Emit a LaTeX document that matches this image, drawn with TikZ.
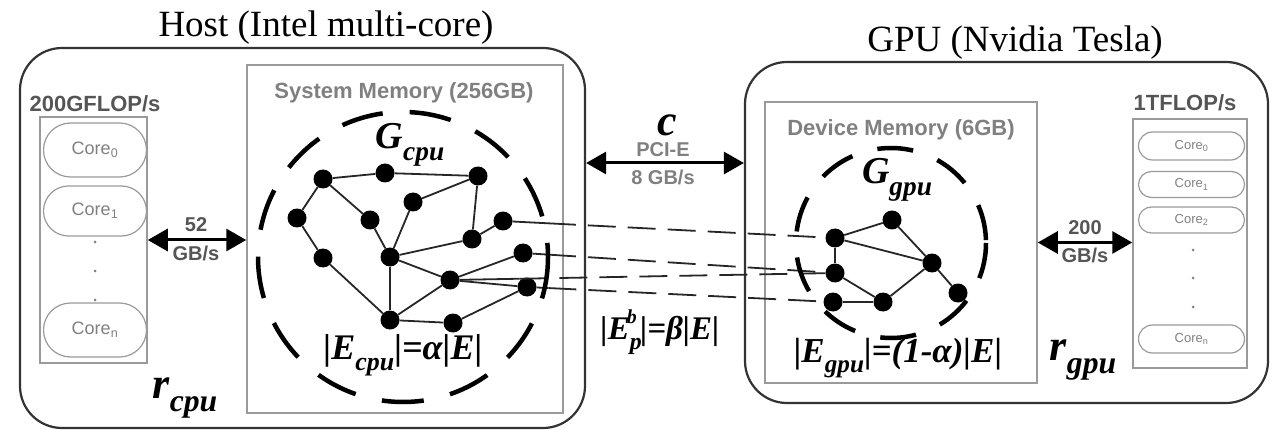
\documentclass[tikz,border=0pt]{standalone}
\usepackage{fontspec}
\setmainfont{Liberation Serif}
\setsansfont{Liberation Sans}
\usetikzlibrary{arrows.meta,calc,shapes.misc}
\definecolor{boxgray}{HTML}{9A9A9A}
\definecolor{txtgray}{HTML}{808080}
\definecolor{dkgray}{HTML}{555555}
\definecolor{edgegray}{HTML}{333333}
\newcommand\lo[1]{\raisebox{-.3em}{\scalebox{.72}{#1}}}
\newcommand\hi[1]{\raisebox{.5em}{\scalebox{.6}{#1}}}
\begin{document}
\begin{tikzpicture}[x=1pt,y=-1pt,
  titletext/.style={font=\fontsize{37}{40}\selectfont, inner sep=0, anchor=base},
  outerbox/.style={draw=edgegray, line width=2.2pt, rounded corners=42pt, inner sep=0},
  membox/.style={draw=boxgray, line width=1.5pt, inner sep=0},
  memtitle/.style={font=\sffamily\bfseries\fontsize{22}{24}\selectfont, text=txtgray, inner sep=0},
  flops/.style={font=\sffamily\bfseries\fontsize{22}{24}\selectfont, text=dkgray, inner sep=0},
  capsule/.style={rounded rectangle, draw=boxgray, line width=1.2pt, inner sep=0},
  coretext/.style={font=\sffamily\fontsize{#1}{#1}\selectfont, text=txtgray},
  cdot/.style={circle, fill=txtgray, inner sep=0, minimum size=3pt},
  vtx/.style={circle, fill=black, inner sep=0, minimum size=19pt},
  edge/.style={draw=black!85, line width=1.8pt},
  xdash/.style={draw=black!85, line width=1.8pt, dash pattern=on 28pt off 12pt},
  bigdash/.style={draw=black, line width=4.5pt, dash pattern=on #1},
  bigarrow/.style={line width=3pt, {Triangle[length=20pt,width=22pt]}-{Triangle[length=20pt,width=22pt]}},
  bwlabel/.style={font=\sffamily\bfseries\fontsize{20}{22}\selectfont, text=dkgray, inner sep=0},
  mathlbl/.style={font=\bfseries\itshape\fontsize{#1}{#1}\selectfont, inner sep=0}
]
\useasboundingbox (0,0) rectangle (1281,430);

% titles
\node[titletext] (hosttitle) at (326,37) {Host (Intel multi-core)};
\node[titletext] (gputitle) at (1015,52) {GPU (Nvidia Tesla)};

% outer boxes
\node[outerbox, minimum width=565pt, minimum height=380pt] (host) at (302.5,238) {};
\node[outerbox, minimum width=523pt, minimum height=341pt] (gpu) at (1006.5,232.5) {};

% memory boxes
\node[membox, minimum width=316pt, minimum height=348pt] (sysmem) at (405,239) {};
\node[membox, minimum width=272pt, minimum height=281pt] (devmem) at (901,242.5) {};
\node[memtitle] (sysmemt) at (404,93) {System Memory (256GB)};
\node[memtitle] (devmemt) at (901,130) {Device Memory (6GB)};

% CPU cores
\node[flops] (cpuflops) at (95,104) {200GFLOP/s};
\node[membox, minimum width=107pt, minimum height=246pt] (cpucol) at (93.5,240) {};
\node[capsule, minimum width=103pt, minimum height=54pt] (cc0) at (95,150) {};
\node[coretext=18] (cc0t) at (cc0) {Core\textsubscript{0}};
\node[capsule, minimum width=103pt, minimum height=50pt] (cc1) at (95,211) {};
\node[coretext=18] (cc1t) at (cc1) {Core\textsubscript{1}};
\node[capsule, minimum width=103pt, minimum height=54pt] (ccn) at (95,330) {};
\node[coretext=18] (ccnt) at (ccn) {Core\textsubscript{n}};
\node[cdot] (cd1) at (95,242) {};
\node[cdot] (cd2) at (95,271) {};
\node[cdot] (cd3) at (95,300) {};

% GPU cores
\node[flops] (gpuflops) at (1185,103) {1TFLOP/s};
\node[membox, minimum width=114pt, minimum height=249pt] (gpucol) at (1190,243.5) {};
\node[capsule, minimum width=106pt, minimum height=28pt] (gc0) at (1191.5,146) {};
\node[coretext=13] (gc0t) at (gc0) {Core\textsubscript{0}};
\node[capsule, minimum width=106pt, minimum height=26pt] (gc1) at (1191.5,184.5) {};
\node[coretext=13] (gc1t) at (gc1) {Core\textsubscript{1}};
\node[capsule, minimum width=106pt, minimum height=26pt] (gc2) at (1191.5,220) {};
\node[coretext=13] (gc2t) at (gc2) {Core\textsubscript{2}};
\node[capsule, minimum width=106pt, minimum height=28pt] (gcn) at (1191.5,339) {};
\node[coretext=13] (gcnt) at (gcn) {Core\textsubscript{n}};
\node[cdot] (gd1) at (1193,250) {};
\node[cdot] (gd2) at (1193,278) {};
\node[cdot] (gd3) at (1193,307) {};

% arrows
\draw[bigarrow] (cpucol.east) -- (cpucol.east -| sysmem.west);
\node[bwlabel] (l52) at (196,225) {52};
\node[bwlabel] (l52b) at (196,253) {GB/s};

\coordinate (pcie) at (665,163);
\draw[bigarrow] (host.east |- pcie) -- (gpu.west |- pcie);
\node[mathlbl=44] (cl) at (667,125) {c};
\node[bwlabel, text=txtgray] (pcil) at (663,150) {PCI-E};
\node[bwlabel, text=txtgray] (pcib) at (663,177) {8 GB/s};

\draw[bigarrow] (devmem.east) -- (devmem.east -| gpucol.west);
\node[bwlabel] (l200) at (1085,228) {200};
\node[bwlabel] (l200b) at (1085,255) {GB/s};

% CPU graph
\foreach \n/\x/\y in {n1/323/179, n2/385/173, n3/478/176, n4/297/218, n5/370/220,
  n6/413/202, n7/503/221, n8/472/239, n9/390/257, n10/323/258, n11/523/253,
  n12/450/280, n13/527/287, n14/390/320, n15/453/323}
  \node[vtx] (\n) at (\x,\y) {};
\foreach \a/\b in {n1/n2, n2/n3, n1/n4, n1/n5, n4/n10, n10/n14, n5/n9, n6/n9, n6/n3,
  n3/n8, n8/n7, n9/n8, n9/n12, n9/n14, n12/n11, n12/n13, n14/n12, n14/n15, n15/n13}
  \draw[edge] (\a) -- (\b);

% GPU graph
\foreach \n/\x/\y in {g1/835/238, g2/835/273, g3/833/302, g4/892/220, g5/932/263,
  g6/883/302, g7/958/293}
  \node[vtx] (\n) at (\x,\y) {};
\foreach \a/\b in {g1/g4, g1/g5, g4/g5, g1/g2, g2/g6, g6/g5, g3/g6, g5/g7}
  \draw[edge] (\a) -- (\b);

% cut edges
\foreach \a/\b/\t [count=\i] in {n7/g1/0.135, n11/g2/0.08, n12/g2/0.18, n13/g3/0.07}{
  \draw[edge] (\a) -- ($(\a)!\t!(\b)$) coordinate (s\i);
  \draw[xdash] (s\i) -- (\b);
}

% dashed partitions
\coordinate (cpuc) at (403,257);
\coordinate (gpuc) at (891,243);
\draw[bigdash={42pt off 27pt}] (cpuc) circle[radius=145];
\draw[bigdash={36pt off 26pt}] (gpuc) circle[radius=95];

% math labels
\node[mathlbl=38] (gcpu) at (410,145) {G\lo{cpu}};
\node[mathlbl=38] (ggpu) at (897,180) {G\lo{gpu}};
\node[mathlbl=36] (ecpu) at (403,355) {|E\lo{cpu}|=\textit{α}|E|};
\node[mathlbl=35] (egpu) at (898,358) {|E\lo{gpu}|=(1-\textit{α})|E|};
\node[mathlbl=33] (ep) at (660,332) {|E\lo{p}\kern-.45em\hi{b}\kern.1em|=\textit{β}|E|};
\node[mathlbl=44] (rcpu) at (185,398) {r\lo{cpu}};
\node[mathlbl=44] (rgpu) at (1083,360) {r\lo{gpu}};
\end{tikzpicture}
\end{document}
